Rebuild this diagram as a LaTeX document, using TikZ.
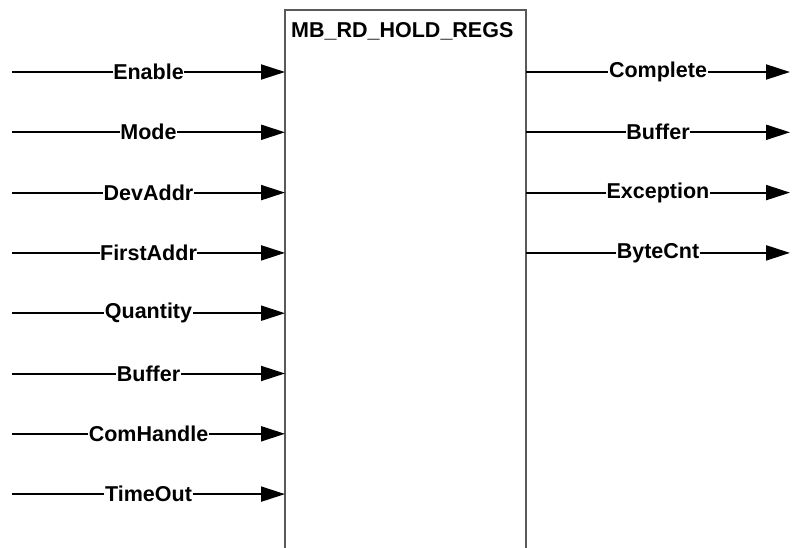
\documentclass[tikz,border=0pt]{standalone}
\usepackage{fontspec}
\setmainfont{Liberation Sans}
\usetikzlibrary{arrows.meta}
\tikzset{
  pinline/.style={line width=2pt, -{Triangle[length=24pt,width=15pt]}},
  pinlabel/.style={fill=white, inner sep=0.6pt, font=\fontsize{21.5}{25}\selectfont\bfseries},
  blockline/.style={draw=black!65, line width=1.2pt},
}
\begin{document}
\begin{tikzpicture}[x=1pt,y=-1pt]
    \useasboundingbox (0,0) rectangle (792,548);
    % Function block, open at the bottom
    \coordinate (blkBL) at (285,548);
    \coordinate (blkTL) at (285,10);
    \coordinate (blkTR) at (526,10);
    \coordinate (blkBR) at (526,548);
    \draw[blockline] (blkBL) -- (blkTL) -- (blkTR) -- (blkBR);
    \node[font=\fontsize{21.5}{25}\selectfont\bfseries, anchor=base west, inner sep=0pt] (title) at (291,38) {MB\_RD\_HOLD\_REGS};
    % Inputs
    \foreach \name [count=\i] in {Enable,Mode,DevAddr,FirstAddr,Quantity,Buffer,ComHandle,TimeOut} {
        \coordinate (in\i) at (12,{72+60.3*(\i-1)});
        \coordinate (inpin\i) at (285,{72+60.3*(\i-1)});
        \draw[pinline] (in\i) -- node[pinlabel] (inlbl\i) {\name} (inpin\i);
    }
    % Outputs
    \foreach \name [count=\i] in {Complete,Buffer,Exception,ByteCnt} {
        \coordinate (outpin\i) at (526,{72+60.3*(\i-1)});
        \coordinate (out\i) at (790,{72+60.3*(\i-1)});
        \draw[pinline] (outpin\i) -- node[pinlabel] (outlbl\i) {\name} (out\i);
    }
\end{tikzpicture}
\end{document}
